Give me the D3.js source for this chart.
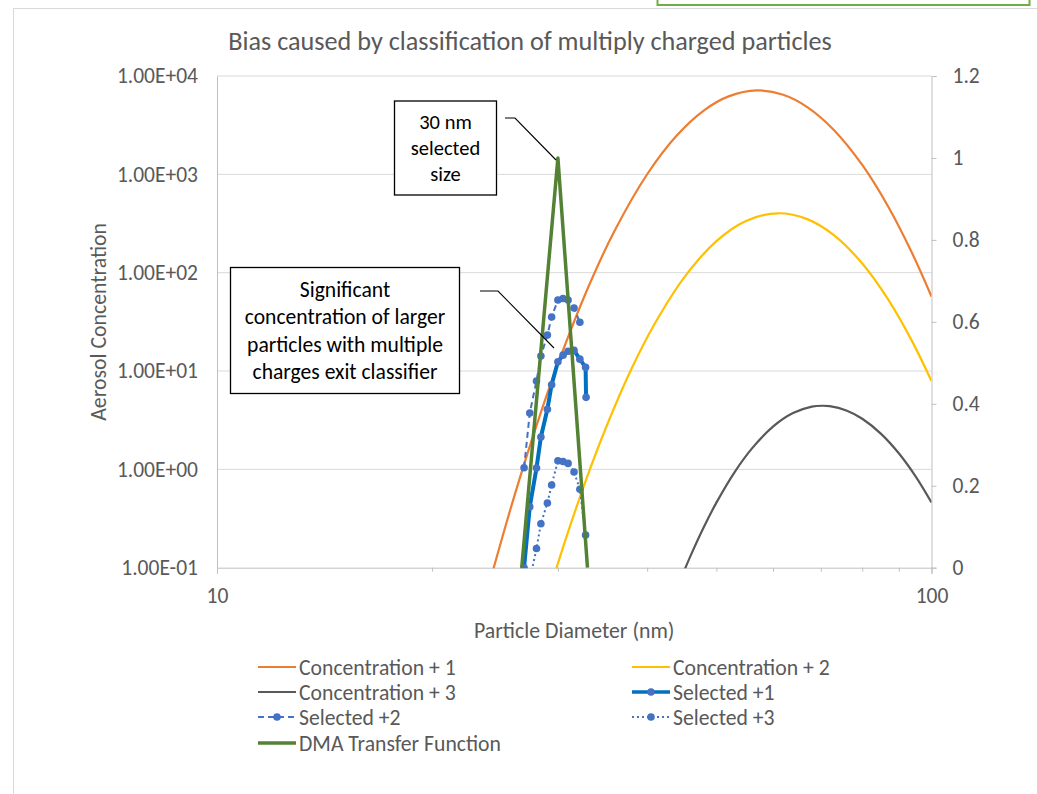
<!DOCTYPE html>
<html><head><meta charset="utf-8">
<script src="https://cdn.jsdelivr.net/npm/d3@7"></script>
<style>
body{margin:0;background:#fff;}
svg{display:block;font-family:Carlito,Calibri,Lato,sans-serif;}
</style>
</head><body>
<svg id="chart" width="1037" height="794"></svg>
<script>
// ---------- data ----------
const chartTitle = "Bias caused by classification of multiply charged particles";
const xTitle = "Particle Diameter (nm)";
const yTitle = "Aerosol Concentration";
const xMajorTicks = [10, 100];
const xMinorTicks = [20, 30, 40, 50, 60, 70, 80, 90];
const yTicks = [0.1, 1, 10, 100, 1000, 10000];
const yTickLabels = ["1.00E-01", "1.00E+00", "1.00E+01", "1.00E+02", "1.00E+03", "1.00E+04"];
const y2Ticks = [0, 0.2, 0.4, 0.6, 0.8, 1, 1.2];
const y2TickLabels = ["0", "0.2", "0.4", "0.6", "0.8", "1", "1.2"];

const conc1Diam = [24.2, 26, 28, 30, 33, 36, 40, 44, 48, 52, 57, 62, 67, 73, 80, 87, 94, 100];
const conc1Vals = [0.0811, 0.501, 2.79, 11.8, 68.2, 265, 1002, 2483, 4457, 6209, 7129, 6436, 4827, 2829, 1245, 468, 156.6, 57.1];

const conc2Diam = [29.5, 31, 33, 35, 38, 41, 45, 50, 55, 61, 67, 73, 80, 87, 94, 100];
const conc2Vals = [0.0746, 0.231, 0.857, 2.62, 10.4, 30.4, 88.2, 209.4, 335.7, 401.8, 350.3, 240.7, 124, 53.2, 19.9, 7.9];

const conc3Diam = [44.5, 46, 48, 50, 53, 56, 60, 64, 68, 70.3, 72, 76, 80, 85, 90, 95, 100];
const conc3Vals = [0.0747, 0.132, 0.258, 0.459, 0.934, 1.616, 2.719, 3.736, 4.342, 4.436, 4.389, 3.97, 3.268, 2.296, 1.456, 0.848, 0.46];

const sel1Diam = [26.9, 27.4, 28.0, 28.4, 29.0, 29.4, 30.0, 30.5, 31.0, 31.6, 32.2, 32.8, 32.85];
const sel1Vals = [0.1, 0.417, 1.03, 2.13, 4.08, 7.26, 12.4, 14.5, 15.9, 16.2, 13.2, 10.9, 5.4];

const sel2Diam = [26.9, 27.4, 28.0, 28.4, 29.0, 29.4, 30.0, 30.5, 31.0, 31.6, 32.2];
const sel2Vals = [1.04, 3.74, 7.92, 14.2, 23.2, 35.4, 52.7, 54.6, 52.7, 43.7, 31.3];

const sel3Diam = [27.4, 28.0, 28.4, 29.0, 29.4, 30.0, 30.5, 31.0, 31.6, 32.2, 32.8];
const sel3Vals = [0.074, 0.157, 0.280, 0.455, 0.693, 1.22, 1.20, 1.15, 0.94, 0.627, 0.215];

const dmaDiam = [26.7, 30.0, 33.0];
const dmaVals = [0, 1, 0];

const annot1Lines = ["30 nm", "selected", "size"];
const annot2Lines = ["Significant", "concentration of larger", "particles with multiple", "charges exit classifier"];

// ---------- setup ----------
const svg = d3.select("#chart");
const L = 217, R = 931.5, T = 76, B = 567.7;
const x = d3.scaleLog().domain([10, 100]).range([L, R]);
const y = d3.scaleLog().domain([0.1, 10000]).range([B, T]);
const y2 = d3.scaleLinear().domain([0, 1.2]).range([B, T]);
const textCol = "#595959";
const gridCol = "#d9d9d9";
const axisCol = "#bfbfbf";
const tickFont = 21.5;

// outer frame + stray green box
svg.append("rect").attr("x", 13.5).attr("y", 8.5).attr("width", 1100).attr("height", 900)
  .attr("fill", "none").attr("stroke", "#d9d9d9").attr("stroke-width", 1);
svg.append("rect").attr("x", 657.5).attr("y", -20).attr("width", 372).attr("height", 25)
  .attr("fill", "none").attr("stroke", "#70AD47").attr("stroke-width", 2);

// title
svg.append("text").attr("x", 530).attr("y", 41).attr("dy", "0.35em").attr("text-anchor", "middle")
  .attr("font-size", 26.2).attr("fill", textCol).text(chartTitle);

// gridlines
svg.append("g").selectAll("line").data(yTicks.slice(1)).join("line")
  .attr("x1", L).attr("x2", R).attr("y1", d => y(d)).attr("y2", d => y(d))
  .attr("stroke", gridCol).attr("stroke-width", 1);

function styleAxis(g) {
  g.attr("font-family", null).attr("font-size", null);
  g.select(".domain").attr("stroke", axisCol);
  g.selectAll("line").attr("stroke", axisCol);
  g.selectAll("text").attr("font-size", tickFont).attr("fill", textCol);
}

// left axis
svg.append("g").attr("transform", `translate(${L},0)`)
  .call(d3.axisLeft(y).tickValues(yTicks).tickSize(0).tickPadding(19)
    .tickFormat((d, i) => yTickLabels[i]))
  .call(styleAxis);

// right axis
svg.append("g").attr("transform", `translate(${R},0)`)
  .call(d3.axisRight(y2).tickValues(y2Ticks).tickSize(5).tickPadding(16)
    .tickFormat((d, i) => y2TickLabels[i]))
  .call(styleAxis);

// bottom axis (major + minor)
svg.append("g").attr("transform", `translate(0,${B})`)
  .call(d3.axisBottom(x).tickValues(xMajorTicks).tickSize(6).tickPadding(14)
    .tickFormat(d3.format("d")))
  .call(styleAxis);
svg.append("g").attr("transform", `translate(0,${B})`)
  .call(d3.axisBottom(x).tickValues(xMinorTicks).tickSize(4).tickFormat(""))
  .call(g => g.select(".domain").remove())
  .call(g => g.selectAll("line").attr("stroke", axisCol));

// axis titles
svg.append("text").attr("x", (L + R) / 2).attr("y", 630).attr("dy", "0.35em").attr("text-anchor", "middle")
  .attr("font-size", 21.8).attr("fill", textCol).text(xTitle);
svg.append("text").attr("transform", `translate(98,${(T + B) / 2}) rotate(-90)`).attr("dy", "0.35em")
  .attr("text-anchor", "middle").attr("font-size", 21.8).attr("fill", textCol).text(yTitle);

// clip
svg.append("clipPath").attr("id", "plotclip").append("rect")
  .attr("x", L).attr("y", T - 2).attr("width", R - L).attr("height", B - T + 2.5);
const plot = svg.append("g").attr("clip-path", "url(#plotclip)");

const zip = (a, b) => a.map((d, i) => [d, b[i]]);
const smooth = d3.line().x(d => x(d[0])).y(d => y(d[1])).curve(d3.curveCatmullRom.alpha(0.5));
const straight = d3.line().x(d => x(d[0])).y(d => y(d[1]));
const straight2 = d3.line().x(d => x(d[0])).y(d => y2(d[1]));

const series = [
  {name: "Concentration + 1", data: zip(conc1Diam, conc1Vals), color: "#ED7D31", w: 2.2, line: smooth},
  {name: "Concentration + 2", data: zip(conc2Diam, conc2Vals), color: "#FFC000", w: 2.2, line: smooth},
  {name: "Concentration + 3", data: zip(conc3Diam, conc3Vals), color: "#595959", w: 2.2, line: smooth},
  {name: "Selected +1", data: zip(sel1Diam, sel1Vals), color: "#0070C0", w: 4, line: straight, marker: true},
  {name: "Selected +2", data: zip(sel2Diam, sel2Vals), color: "#4472C4", w: 2, dash: "6,4", line: straight, marker: true},
  {name: "Selected +3", data: zip(sel3Diam, sel3Vals), color: "#4472C4", w: 2, dash: "2,3", line: straight, marker: true},
  {name: "DMA Transfer Function", data: zip(dmaDiam, dmaVals), color: "#548235", w: 3.5, line: straight2}
];

series.forEach(s => {
  plot.append("path").attr("d", s.line(s.data)).attr("fill", "none")
    .attr("stroke", s.color).attr("stroke-width", s.w)
    .attr("stroke-dasharray", s.dash || null).attr("stroke-linejoin", "round");
  if (s.marker) {
    plot.append("g").selectAll("circle").data(s.data).join("circle")
      .attr("cx", d => x(d[0])).attr("cy", d => y(d[1])).attr("r", 3.8).attr("fill", "#4472C4");
  }
});

// annotations
function callout(rx, ry, rw, rh, lines, lh, fs, pts) {
  svg.append("path").attr("d", d3.line()(pts)).attr("fill", "none").attr("stroke", "#000").attr("stroke-width", 1.1);
  svg.append("rect").attr("x", rx).attr("y", ry).attr("width", rw).attr("height", rh)
    .attr("fill", "#fff").attr("stroke", "#000").attr("stroke-width", 1.3);
  const cy0 = ry + rh / 2 - (lines.length - 1) * lh / 2;
  lines.forEach((t, i) => svg.append("text").attr("x", rx + rw / 2).attr("y", cy0 + i * lh).attr("dy", "0.35em")
    .attr("text-anchor", "middle").attr("font-size", fs).attr("fill", "#000").text(t));
}
callout(394.5, 101, 102, 94, annot1Lines, 26, 20.5, [[505, 118], [515, 118], [556, 160]]);
callout(230.5, 267.5, 229, 126, annot2Lines, 27.5, 21.6, [[480, 291], [498, 291], [554, 348]]);

// legend
const legendPos = [[258, 667], [632, 667], [258, 692], [632, 692], [258, 717], [632, 717], [258, 743]];
series.forEach((s, i) => {
  const [lx, ly] = legendPos[i];
  const g = svg.append("g");
  g.append("line").attr("x1", lx).attr("x2", lx + 38).attr("y1", ly).attr("y2", ly)
    .attr("stroke", s.color).attr("stroke-width", Math.min(s.w, 3.5)).attr("stroke-dasharray", s.dash || null);
  if (s.marker) g.append("circle").attr("cx", lx + 19).attr("cy", ly).attr("r", 3.8).attr("fill", "#4472C4");
  g.append("text").attr("x", lx + 41).attr("y", ly).attr("dy", "0.35em").attr("font-size", 21.7)
    .attr("fill", textCol).text(s.name);
});
</script>
</body></html>
